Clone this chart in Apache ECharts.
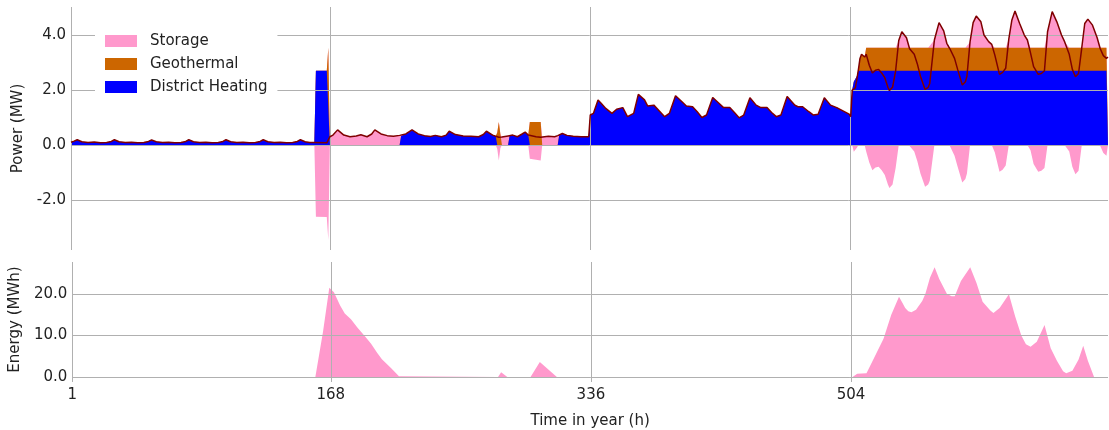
<!DOCTYPE html>
<html><head><meta charset="utf-8">
<script src="https://cdn.jsdelivr.net/npm/echarts@6/dist/echarts.min.js"></script>
<style>html,body{margin:0;padding:0;background:#fff}#c{width:1109px;height:430px}</style>
</head><body><div id="c"></div>
<script>
// ---- time grid of the power panel (hours) ----
const hours = [
  1,3,5,8,12,16,20,24,27,29,32,36,40,44,48,51,53,56,60,64,68,72,75,77,80,84,88,92,96,99,101,104,108,112,116,120,123,125,128,132,136,140,144,147,149,152,155,158,159,166,167,
  168,170,173,177,181,185,188,192,195,197,201,205,209,213,214,217,221,225,229,233,236,240,243,245,249,254,259,264,267,269,273,275,276,277,278,279,281,283,284,286,289,292,294,296,297,301,304,305,309,313,315,316,318,321,325,330,335,
  336,338,341,343,346,350,353,357,360,364,367,371,373,377,381,384,387,391,395,398,402,405,408,411,415,419,422,426,429,432,435,439,443,446,450,453,456,459,463,468,470,473,477,480,483,487,491,495,499,503,504,
  505,506,507,508,509,510,511,512,513,514,516,518,520,522,524,526,528,529,531,533,535,537,540,542,545,547,549,552,554,555,558,561,564,566,568,571,573,576,578,579,581,583,585,588,590,593,595,597,600,602,604,606,608,610,613,616,618,620,622,625,627,629,631,634,637,640,642,645,647,649,651,653,655,657,660,663,665,667,669,670
];
// heat demand (MW) - dark red line
const demand = [
  0.10,0.14,0.19,0.12,0.09,0.11,0.08,0.09,0.13,0.19,0.12,0.09,0.10,0.08,0.09,0.13,0.18,0.12,0.09,0.10,0.08,0.09,0.13,0.19,0.12,0.09,0.10,0.08,0.09,0.13,0.19,0.12,0.09,0.10,0.08,0.09,0.13,0.19,0.12,0.09,0.10,0.08,0.09,0.13,0.19,0.12,0.09,0.09,0.09,0.08,0.08,
  0.30,0.36,0.55,0.36,0.30,0.33,0.37,0.30,0.40,0.55,0.40,0.34,0.32,0.35,0.33,0.40,0.55,0.40,0.34,0.31,0.35,0.30,0.36,0.50,0.38,0.33,0.32,0.30,0.38,0.50,0.36,0.32,0.30,0.28,0.28,0.29,0.31,0.33,0.35,0.36,0.30,0.40,0.47,0.36,0.34,0.30,0.28,0.30,0.32,0.30,0.34,0.37,0.42,0.35,0.32,0.30,0.30,
  1.09,1.15,1.64,1.52,1.33,1.15,1.30,1.36,1.03,1.15,1.84,1.64,1.42,1.45,1.21,1.03,1.15,1.79,1.58,1.42,1.39,1.21,1.00,1.09,1.73,1.52,1.36,1.36,1.18,0.99,1.09,1.72,1.45,1.36,1.36,1.18,1.03,1.09,1.76,1.45,1.39,1.39,1.21,1.09,1.12,1.72,1.45,1.36,1.24,1.12,1.03,
  2.00,2.05,2.08,2.40,2.75,3.15,3.30,3.33,3.20,3.30,2.90,2.62,2.72,2.75,2.62,2.45,2.10,1.98,2.10,2.70,3.80,4.12,3.90,3.50,3.30,2.95,2.50,2.02,2.10,2.24,3.82,4.45,4.15,3.70,3.50,3.15,2.75,2.18,2.30,2.50,3.75,4.45,4.69,4.48,4.00,3.76,3.66,3.27,2.57,2.64,2.79,3.85,4.55,4.87,4.42,4.00,3.82,3.35,2.85,2.57,2.60,2.70,4.12,4.85,4.48,4.00,3.76,3.30,2.75,2.48,2.60,3.50,4.42,4.58,4.36,3.90,3.50,3.25,3.15,3.20
];
// district heating supply (MW) - blue
const districtHeating = [
  0.10,0.14,0.19,0.12,0.09,0.11,0.08,0.09,0.13,0.19,0.12,0.09,0.10,0.08,0.09,0.13,0.18,0.12,0.09,0.10,0.08,0.09,0.13,0.19,0.12,0.09,0.10,0.08,0.09,0.13,0.19,0.12,0.09,0.10,0.08,0.09,0.13,0.19,0.12,0.09,0.10,0.08,0.09,0.13,0.19,0.12,0.09,0.09,2.70,2.70,2.70,
  0,0,0,0,0,0,0,0,0,0,0,0,0,0,0.33,0.40,0.55,0.40,0.34,0.31,0.35,0.30,0.36,0.50,0.38,0.33,0.32,0.30,0.38,0.50,0.36,0.32,0,0,0,0,0,0,0.35,0.36,0.30,0.40,0.47,0.36,0,0,0,0,0,0,0,0.37,0.42,0.35,0.32,0.30,0.30,
  1.09,1.15,1.64,1.52,1.33,1.15,1.30,1.36,1.03,1.15,1.84,1.64,1.42,1.45,1.21,1.03,1.15,1.79,1.58,1.42,1.39,1.21,1.00,1.09,1.73,1.52,1.36,1.36,1.18,0.99,1.09,1.72,1.45,1.36,1.36,1.18,1.03,1.09,1.76,1.45,1.39,1.39,1.21,1.09,1.12,1.72,1.45,1.36,1.24,1.12,1.03,
  2.00,2.30,2.40,2.50,2.70,2.70,2.70,2.70,2.70,2.70,2.70,2.70,2.70,2.70,2.70,2.70,2.70,2.70,2.70,2.70,2.70,2.70,2.70,2.70,2.70,2.70,2.70,2.70,2.70,2.70,2.70,2.70,2.70,2.70,2.70,2.70,2.70,2.70,2.70,2.70,2.70,2.70,2.70,2.70,2.70,2.70,2.70,2.70,2.70,2.70,2.70,2.70,2.70,2.70,2.70,2.70,2.70,2.70,2.70,2.70,2.70,2.70,2.70,2.70,2.70,2.70,2.70,2.70,2.70,2.70,2.70,2.70,2.70,2.70,2.70,2.70,2.70,2.70,2.70,2.70
];
// geothermal supply (MW) - orange
const geothermal = [
  0,0,0,0,0,0,0,0,0,0,0,0,0,0,0,0,0,0,0,0,0,0,0,0,0,0,0,0,0,0,0,0,0,0,0,0,0,0,0,0,0,0,0,0,0,0,0,0,0,0,0.84,
  0,0,0,0,0,0,0,0,0,0,0,0,0,0,0,0,0,0,0,0,0,0,0,0,0,0,0,0,0,0,0,0,0.45,0.84,0.40,0,0,0,0,0,0,0,0,0,0.84,0.84,0.84,0,0,0,0,0,0,0,0,0,0,
  0,0,0,0,0,0,0,0,0,0,0,0,0,0,0,0,0,0,0,0,0,0,0,0,0,0,0,0,0,0,0,0,0,0,0,0,0,0,0,0,0,0,0,0,0,0,0,0,0,0,0,
  0,0,0,0,0.05,0.45,0.60,0.63,0.50,0.84,0.84,0.84,0.84,0.84,0.84,0.84,0.84,0.84,0.84,0.84,0.84,0.84,0.84,0.84,0.84,0.84,0.84,0.84,0.84,0.84,0.84,0.84,0.84,0.84,0.84,0.84,0.84,0.84,0.84,0.84,0.84,0.84,0.84,0.84,0.84,0.84,0.84,0.84,0.84,0.84,0.84,0.84,0.84,0.84,0.84,0.84,0.84,0.84,0.84,0.84,0.84,0.84,0.84,0.84,0.84,0.84,0.84,0.84,0.84,0.84,0.84,0.84,0.84,0.84,0.84,0.84,0.84,0.84,0.84,0.84
];
// storage power (MW): positive = discharging, negative = charging - pink
const storage = [
  0,0,0,0,0,0,0,0,0,0,0,0,0,0,0,0,0,0,0,0,0,0,0,0,0,0,0,0,0,0,0,0,0,0,0,0,0,0,0,0,0,0,0,0,0,0,0,0,-2.61,-2.62,-3.46,
  0.30,0.36,0.55,0.36,0.30,0.33,0.37,0.30,0.40,0.55,0.40,0.34,0.32,0.35,0,0,0,0,0,0,0,0,0,0,0,0,0,0,0,0,0,0,-0.15,-0.56,-0.12,0.29,0.31,0.33,0,0,0,0,0,0,-0.50,-0.54,-0.56,0.30,0.32,0.30,0.34,0,0,0,0,0,0,
  0,0,0,0,0,0,0,0,0,0,0,0,0,0,0,0,0,0,0,0,0,0,0,0,0,0,0,0,0,0,0,0,0,0,0,0,0,0,0,0,0,0,0,0,0,0,0,0,0,0,0,
  0,-0.25,-0.32,-0.10,0,0,0,0,0,-0.24,-0.64,-0.92,-0.82,-0.79,-0.92,-1.09,-1.44,-1.56,-1.44,-0.84,0.26,0.58,0.36,-0.04,-0.24,-0.59,-1.04,-1.52,-1.44,-1.30,0.28,0.91,0.61,0.16,-0.04,-0.39,-0.79,-1.36,-1.24,-1.04,0.21,0.91,1.15,0.94,0.46,0.22,0.12,-0.27,-0.97,-0.90,-0.75,0.31,1.01,1.33,0.88,0.46,0.28,-0.19,-0.69,-0.97,-0.94,-0.84,0.58,1.31,0.94,0.46,0.22,-0.24,-0.79,-1.06,-0.94,-0.04,0.88,1.04,0.82,0.36,-0.04,-0.29,-0.39,-0.34
];
// stored energy (MWh)
const energyHours = [1,158,159,163,167,168,170,174,177,181,185,190,194,198,201,207,212,213,276,278,282,297,303,314,505,508,514,518,525,530,535,537,539,541,543,546,550,552,555,558,561,566,569,571,575,581,585,589,594,596,600,606,610,614,617,620,624,629,633,637,641,643,647,651,654,657,661,670];
const energy = [0,0,0.3,11.0,21.5,21.7,20.4,17.2,15.3,13.9,12.0,9.8,8.0,5.8,4.3,2.1,0.2,0,0,1.15,0,0,3.6,0,0,0.8,0.9,3.9,9.2,15.0,19.3,18.0,16.6,15.8,15.6,16.2,18.3,20.0,23.9,26.4,23.6,20.0,19.4,19.4,23.1,26.4,22.7,18.1,16.0,15.4,16.6,19.9,14.6,10.0,7.9,7.3,8.5,12.5,6.9,3.9,1.4,0.9,1.5,4.2,7.5,3.9,0,0];

const xTicks = [1, 168, 336, 504];
const powerTicks = [-2, 0, 2, 4];
const energyTicks = [0, 10, 20];
const legendNames = ['Storage', 'Geothermal', 'District Heating'];

const PINK = '#ff99cc', ORANGE = '#cc6600', BLUE = '#0000ff', LINE = '#7f0000';
const GRIDC = '#b0b0b0', TXT = '#222222', FONT = 'DejaVu Sans';

// Stacked levels (each area is filled from 0 and painted bottom-most last)
const pts = ys => hours.map((h, i) => [h, ys[i]]);
const levelDH = districtHeating.slice();
const levelGeo = districtHeating.map((v, i) => v + geothermal[i]);
const levelStoragePos = levelGeo.map((v, i) => v + Math.max(storage[i], 0));
const storageNeg = storage.map(v => Math.min(v, 0));

function area(name, ys, color) {
  return {
    name, type: 'line', xAxisIndex: 0, yAxisIndex: 0, data: pts(ys),
    symbol: 'none', showSymbol: false, silent: true, z: 2,
    color: color, itemStyle: { color },
    lineStyle: { width: 0, opacity: 0 },
    areaStyle: { color, opacity: 1, origin: 0 }
  };
}

const chart = echarts.init(document.getElementById('c'));
chart.setOption({
  animation: false,
  textStyle: { fontFamily: FONT },
  grid: [
    { left: 71, top: 7, width: 1037, height: 243 },
    { left: 71, top: 262, width: 1037, height: 119 }
  ],
  legend: {
    orient: 'vertical', left: 95, top: 22,
    padding: [10, 10, 10, 10], itemGap: 5,
    itemWidth: 32, itemHeight: 12, icon: 'rect',
    backgroundColor: '#ffffff', z: 10,
    textStyle: { fontFamily: FONT, fontSize: 15, color: TXT, lineHeight: 18, padding: [0, 0, 0, 8] },
    data: [
      { name: legendNames[0], itemStyle: { color: PINK, borderWidth: 0 } },
      { name: legendNames[1], itemStyle: { color: ORANGE, borderWidth: 0 } },
      { name: legendNames[2], itemStyle: { color: BLUE, borderWidth: 0 } }
    ]
  },
  xAxis: [
    {
      type: 'value', gridIndex: 0, min: 1, max: 670, z: 3,
      axisLine: { show: false },
      axisTick: { show: false, customValues: xTicks },
      axisLabel: { show: false, customValues: xTicks },
      splitLine: { show: true, lineStyle: { color: GRIDC, width: 1 } }
    },
    {
      type: 'value', gridIndex: 1, min: 1, max: 670, z: 3,
      name: 'Time in year (h)', nameLocation: 'middle', nameGap: 37,
      nameTextStyle: { fontFamily: FONT, fontSize: 15, color: TXT },
      axisLine: { show: false },
      axisTick: { show: true, length: 5, customValues: xTicks, lineStyle: { color: GRIDC } },
      axisLabel: { customValues: xTicks, fontFamily: FONT, fontSize: 15, color: TXT, margin: 11 },
      splitLine: { show: true, lineStyle: { color: GRIDC, width: 1 } }
    }
  ],
  yAxis: [
    {
      type: 'value', gridIndex: 0, min: -3.82, max: 5.02, z: 3,
      name: 'Power (MW)', nameLocation: 'middle', nameGap: 41,
      nameTextStyle: { fontFamily: FONT, fontSize: 15, color: TXT },
      axisLine: { show: false },
      axisTick: { show: false, customValues: powerTicks },
      axisLabel: { customValues: powerTicks, formatter: v => Number(v).toFixed(1), fontFamily: FONT, fontSize: 15, color: TXT, margin: 5 },
      splitLine: { show: true, lineStyle: { color: GRIDC, width: 1 } }
    },
    {
      type: 'value', gridIndex: 1, min: 0, max: 27.67, z: 3,
      name: 'Energy (MWh)', nameLocation: 'middle', nameGap: 41,
      nameTextStyle: { fontFamily: FONT, fontSize: 15, color: TXT },
      axisLine: { show: false },
      axisTick: { show: false, customValues: energyTicks },
      axisLabel: { customValues: energyTicks, formatter: v => Number(v).toFixed(1), fontFamily: FONT, fontSize: 15, color: TXT, margin: 5 },
      splitLine: { show: true, lineStyle: { color: GRIDC, width: 1 } }
    }
  ],
  series: [
    area('Storage', levelStoragePos, PINK),
    area('Geothermal', levelGeo, ORANGE),
    area('District Heating', levelDH, BLUE),
    area('Storage', storageNeg, PINK),
    {
      name: 'Demand', type: 'line', xAxisIndex: 0, yAxisIndex: 0, data: pts(demand),
      symbol: 'none', showSymbol: false, silent: true, z: 5,
      lineStyle: { color: LINE, width: 1.5 }, itemStyle: { color: LINE }
    },
    {
      name: 'Stored energy', type: 'line', xAxisIndex: 1, yAxisIndex: 1,
      data: energyHours.map((h, i) => [h, energy[i]]),
      symbol: 'none', showSymbol: false, silent: true, z: 2,
      lineStyle: { width: 0, opacity: 0 }, itemStyle: { color: PINK },
      areaStyle: { color: PINK, opacity: 1, origin: 0 }
    }
  ]
});
</script>
</body></html>
